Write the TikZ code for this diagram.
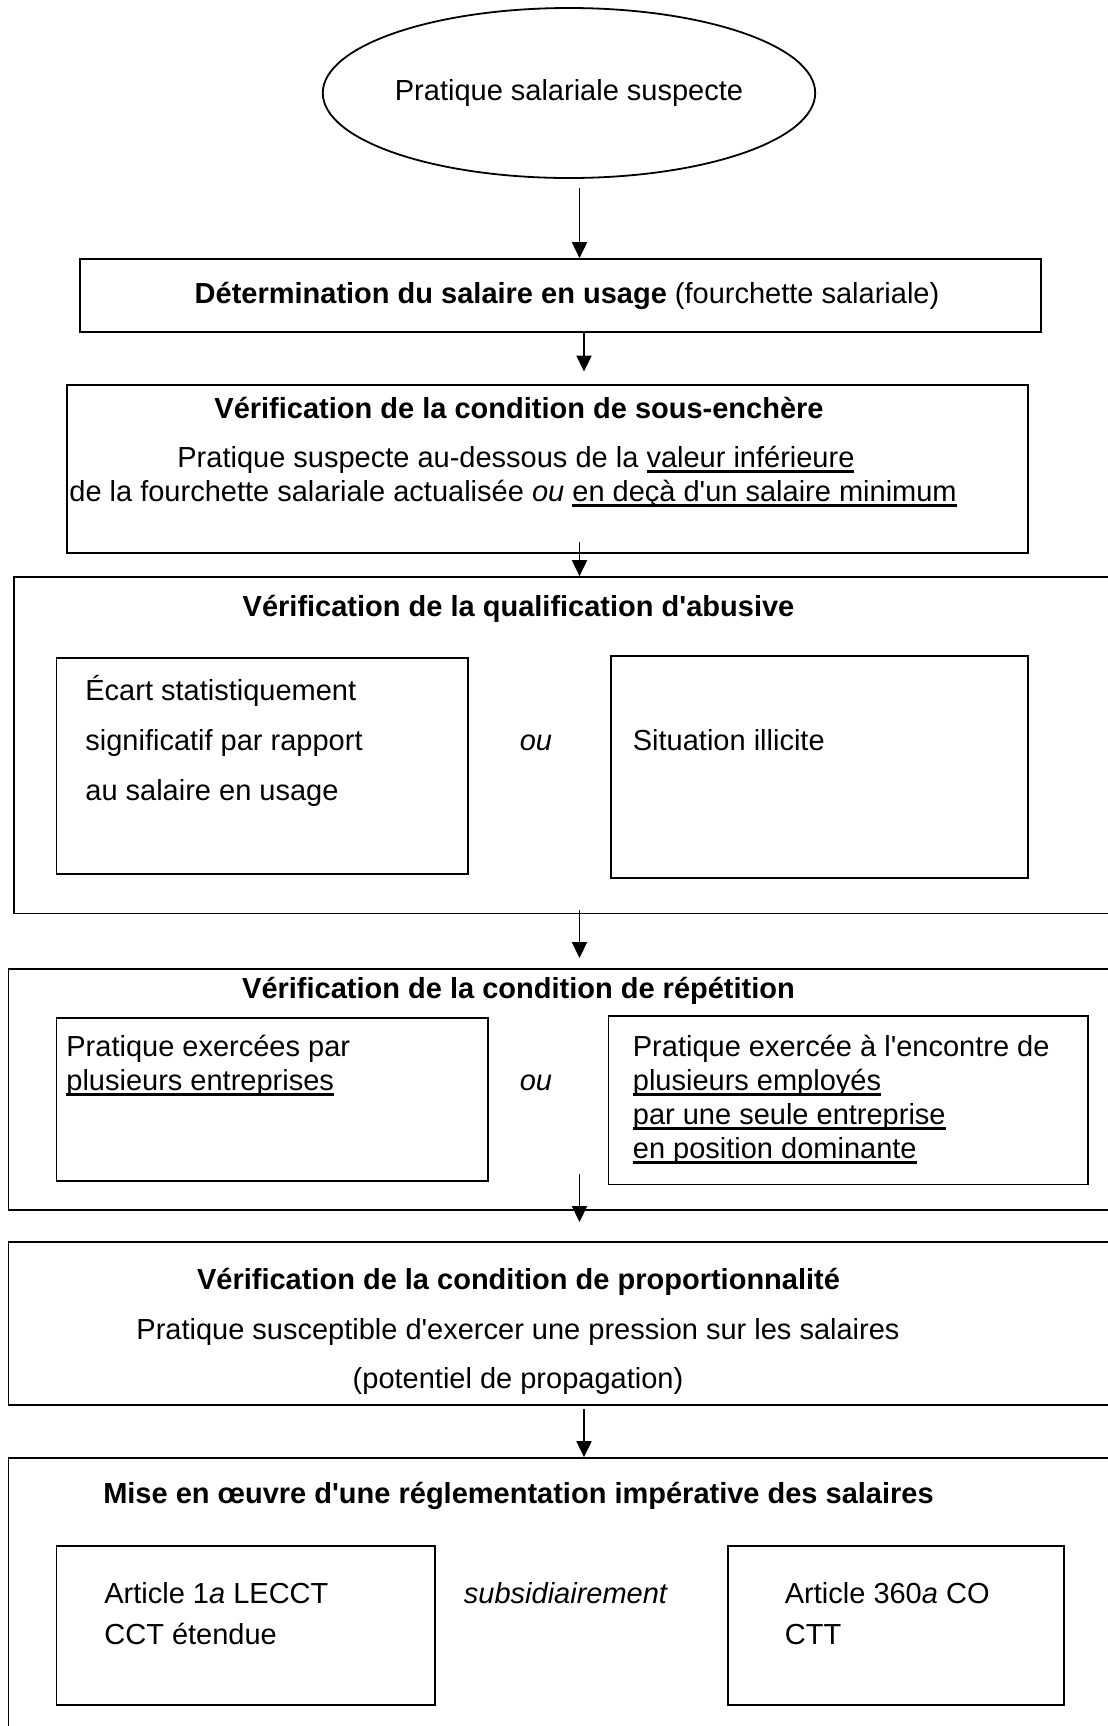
\documentclass[tikz,border=0pt]{standalone}
\usepackage{fontspec}
\setmainfont{Liberation Sans}[Ligatures=TeXOff]
\newcommand{\myul}[1]{\setbox0\hbox{#1}\rlap{\rule[-2.8pt]{\wd0}{1.1pt}}\box0}
\usetikzlibrary{shapes.geometric,fit,arrows.meta}
\tikzset{
  frame/.style={draw, line width=0.9pt, inner sep=0pt},
  txt/.style={font=\fontsize{14.5pt}{16.7pt}\selectfont, inner sep=0pt},
  arr/.style={line width=0.65pt, -{Triangle[length=8pt,width=7.6pt]}},
}
\begin{document}
\begin{tikzpicture}[x=0.5pt,y=-0.5pt]
\useasboundingbox (0,0) rectangle (1108,1726);

% start ellipse
\node[frame, ellipse, minimum width=243pt, minimum height=85pt, txt] (start) at (569,93) {Pratique salariale suspecte};

% box 2
\node[frame, fit={(80,259) (1041,332)}] (b2) {};
\node[txt, anchor=base] (t2) at (567,303) {\textbf{Détermination du salaire en usage} (fourchette salariale)};

% box 3
\node[frame, fit={(67,385) (1028,553)}] (b3) {};
\node[txt, anchor=base] (t3a) at (519,418) {\textbf{Vérification de la condition de sous-enchère}};
\node[txt, anchor=base west] (t3b) at (177,467) {Pratique suspecte au-dessous de la \myul{valeur inférieure}};
\node[txt, anchor=base west] (t3c) at (69,501) {de la fourchette salariale actualisée \textit{ou} \myul{en deçà d'un salaire minimum}};

% box 4
\node[frame, fit={(14,577) (1125,913.5)}] (b4) {};
\node[txt, anchor=base] (t4) at (518.5,616) {\textbf{Vérification de la qualification d'abusive}};
\node[frame, fit={(56.5,658) (468,874)}] (b4l) {};
\node[frame, fit={(611,656) (1028,878)}] (b4r) {};
\node[txt, anchor=base west] (t4l1) at (85,700) {Écart statistiquement};
\node[txt, anchor=base west] (t4l2) at (85,750) {significatif par rapport};
\node[txt, anchor=base west] (t4l3) at (85,800) {au salaire en usage};
\node[txt, anchor=base] (t4ou) at (536,750) {\textit{ou}};
\node[txt, anchor=base west] (t4r) at (632.5,750) {Situation illicite};

% box 5
\node[frame, fit={(8.5,969) (1125,1210)}] (b5) {};
\node[txt, anchor=base] (t5) at (518.5,998) {\textbf{Vérification de la condition de répétition}};
\node[frame, fit={(56.5,1018) (488,1181)}] (b5l) {};
\node[frame, fit={(608.5,1016) (1088,1184.5)}] (b5r) {};
\node[txt, anchor=base west] (t5l1) at (66,1056) {Pratique exercées par};
\node[txt, anchor=base west] (t5l2) at (66,1090) {\myul{plusieurs entreprises}};
\node[txt, anchor=base] (t5ou) at (536,1090) {\textit{ou}};
\node[txt, anchor=base west] (t5r1) at (632.5,1056) {Pratique exercée à l'encontre de};
\node[txt, anchor=base west] (t5r2) at (632.5,1090) {\myul{plusieurs employés}};
\node[txt, anchor=base west] (t5r3) at (632.5,1124) {\myul{par une seule entreprise}};
\node[txt, anchor=base west] (t5r4) at (632.5,1158) {\myul{en position dominante}};

% box 6
\node[frame, fit={(8.5,1242) (1125,1405)}] (b6) {};
\node[txt, anchor=base] (t6a) at (518.5,1289) {\textbf{Vérification de la condition de proportionnalité}};
\node[txt, anchor=base] (t6b) at (518,1339) {Pratique susceptible d'exercer une pression sur les salaires};
\node[txt, anchor=base] (t6c) at (518,1388) {(potentiel de propagation)};

% box 7
\node[frame, fit={(8.5,1458) (1125,1745)}] (b7) {};
\node[txt, anchor=base] (t7) at (518.5,1503) {\textbf{Mise en œuvre d'une réglementation impérative des salaires}};
\node[frame, fit={(56.5,1546) (435,1705)}] (b7l) {};
\node[frame, fit={(728,1546) (1064,1705)}] (b7r) {};
\node[txt, anchor=base west] (t7l1) at (104,1603) {Article 1\textit{a} LECCT};
\node[txt, anchor=base west] (t7l2) at (104,1644) {CCT étendue};
\node[txt, anchor=base] (t7s) at (566,1603) {\textit{subsidiairement}};
\node[txt, anchor=base west] (t7r1) at (784.5,1603) {Article 360\textit{a} CO};
\node[txt, anchor=base west] (t7r2) at (784.5,1644) {CTT};

% arrows
\coordinate (a1s) at (579.5,188);
\draw[arr] (a1s) -- (a1s |- b2.north);
\coordinate (a2s) at (584,332);
\coordinate (a2e) at (584,371.5);
\draw[arr] (a2s) -- (a2e);
\coordinate (a3s) at (579.5,542);
\draw[arr] (a3s) -- (a3s |- b4.north);
\coordinate (a4s) at (579.5,910);
\coordinate (a4e) at (579.5,958);
\draw[arr] (a4s) -- (a4e);
\coordinate (a5s) at (579.5,1174);
\coordinate (a5e) at (579.5,1222);
\draw[arr] (a5s) -- (a5e);
\coordinate (a6s) at (584,1409);
\draw[arr] (a6s) -- (a6s |- b7.north);
\end{tikzpicture}
\end{document}
